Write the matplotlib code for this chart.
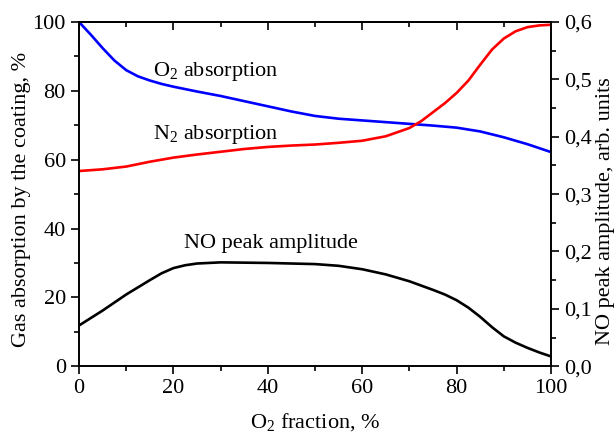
import matplotlib
matplotlib.use("Agg")
import matplotlib.pyplot as plt
from matplotlib import rcParams
from matplotlib.ticker import MultipleLocator, FuncFormatter

rcParams.update({
    "font.family": "Liberation Serif",
    "mathtext.fontset": "custom",
    "mathtext.rm": "Liberation Serif",
    "mathtext.it": "Liberation Serif:italic",
    "font.size": 16,
})

# O2 fraction, % / O2 absorption, %
x_o2 = [0, 2.5, 5, 7.5, 10, 12.5, 15, 17.5, 20, 25, 30, 35, 40, 45, 50, 55, 60, 65, 70, 75, 80, 85, 90, 95, 100]
y_o2 = [100, 96.3, 92.4, 88.8, 86.0, 84.2, 83.0, 82.0, 81.2, 79.8, 78.5, 77.0, 75.5, 74.0, 72.7, 71.9, 71.4, 70.9, 70.4, 69.9, 69.3, 68.2, 66.5, 64.5, 62.2]

# N2 absorption, %
x_n2 = [0, 5, 10, 15, 20, 25, 30, 35, 40, 45, 50, 55, 60, 65, 70, 72.5, 75, 77.5, 80, 82.5, 85, 87.5, 90, 92.5, 95, 97.5, 100]
y_n2 = [56.7, 57.2, 58.0, 59.4, 60.6, 61.5, 62.3, 63.1, 63.7, 64.1, 64.4, 64.9, 65.5, 66.8, 69.2, 71.2, 73.8, 76.4, 79.4, 83.0, 87.6, 92.0, 95.2, 97.3, 98.5, 99.0, 99.2]

# NO peak amplitude, arb. units
x_no = [0, 5, 10, 15, 17.5, 20, 22.5, 25, 27.5, 30, 40, 50, 55, 60, 65, 70, 75, 77.5, 80, 82.5, 85, 87.5, 90, 92.5, 95, 97.5, 100]
y_no = [0.071, 0.097, 0.125, 0.150, 0.162, 0.171, 0.176, 0.179, 0.180, 0.181, 0.180, 0.178, 0.175, 0.169, 0.160, 0.148, 0.133, 0.125, 0.115, 0.102, 0.086, 0.068, 0.052, 0.041, 0.032, 0.024, 0.017]

fig = plt.figure(figsize=(6.15, 4.37), dpi=100)
ax = fig.add_axes([0.1285, 0.162, 0.7675, 0.7877])
ax2 = ax.twinx()

line_kw = dict(lw=1.9, solid_joinstyle="round", solid_capstyle="butt")
ax.plot(x_o2, y_o2, color="#0000ff", **line_kw)
ax.plot(x_n2, y_n2, color="#ff0000", **line_kw)
ax2.plot(x_no, y_no, color="black", **line_kw)

ax.set_xlim(0, 100)
ax.set_ylim(0, 100)
ax2.set_ylim(0, 0.6)

ax.xaxis.set_major_locator(MultipleLocator(20))
ax.xaxis.set_minor_locator(MultipleLocator(10))
ax.yaxis.set_major_locator(MultipleLocator(20))
ax.yaxis.set_minor_locator(MultipleLocator(10))
ax2.yaxis.set_major_locator(MultipleLocator(0.1))
ax2.yaxis.set_minor_locator(MultipleLocator(0.05))
ax2.yaxis.set_major_formatter(FuncFormatter(lambda v, p: f"{v:.1f}".replace(".", ",")))

ax.tick_params(which="both", direction="out", top=False, right=False, width=1.2)
ax.tick_params(which="major", length=6)
ax.tick_params(which="minor", length=3.5)
ax2.tick_params(which="both", direction="out", width=1.2)
ax2.tick_params(which="major", length=6)
ax2.tick_params(which="minor", length=3.5)

# top spine: ticks point inward, no labels
top = ax.secondary_xaxis("top")
top.xaxis.set_major_locator(MultipleLocator(20))
top.xaxis.set_minor_locator(MultipleLocator(10))
top.tick_params(which="both", direction="in", labeltop=False, width=1.2)
top.tick_params(which="major", length=6)
top.tick_params(which="minor", length=3.5)

for a in (ax, ax2):
    for s in a.spines.values():
        s.set_linewidth(1.2)
top.spines["top"].set_linewidth(1.2)

ax.set_xlabel("O$_2$ fraction, %", labelpad=9)
ax.set_ylabel("Gas absorption by the coating, %", labelpad=1)
ax2.set_ylabel("NO peak amplitude, arb. units", labelpad=3)
ax.yaxis.label.set_y(0.485)
ax2.yaxis.label.set_y(0.45)

ax.text(15.6, 85.5, "O$_2$ absorption", va="center", ha="left")
ax.text(15.6, 67.3, "N$_2$ absorption", va="center", ha="left")
ax.text(22.3, 35.7, "NO peak amplitude", va="center", ha="left")

fig.savefig("out.png", dpi=100)
